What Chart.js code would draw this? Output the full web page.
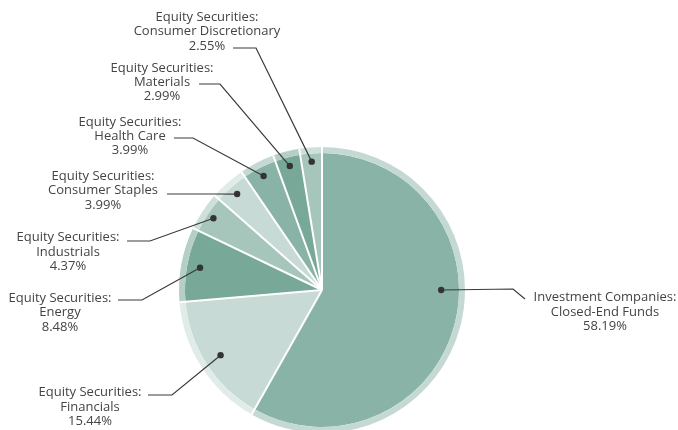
<!DOCTYPE html>
<html>
<head>
<meta charset="utf-8">
<script src="https://cdn.jsdelivr.net/npm/chart.js@4.4.1/dist/chart.umd.min.js"></script>
<style>
  html, body { margin:0; padding:0; background:#fff; overflow:hidden; }
  #wrap { position:relative; width:678px; height:440px; }
</style>
</head>
<body>
<div id="wrap"><canvas id="pie"></canvas></div>
<script>
// data, clockwise from 12 o'clock
const groups  = ['Investment Companies:', 'Equity Securities:', 'Equity Securities:', 'Equity Securities:', 'Equity Securities:', 'Equity Securities:', 'Equity Securities:', 'Equity Securities:'];
const sectors = ['Closed-End Funds', 'Financials', 'Energy', 'Industrials', 'Consumer Staples', 'Health Care', 'Materials', 'Consumer Discretionary'];
const weights = [58.19, 15.44, 8.48, 4.37, 3.99, 3.99, 2.99, 2.55];

const innerColors = ['#8ab3a7', '#c7dad5', '#78a898', '#a6c6bc', '#c7dad5', '#8ab3a7', '#78a898', '#a6c6bc'];
const ringColors  = ['#c4d9d3', '#e1ece9', '#b5cfc6', '#cfe0db', '#e1ece9', '#c4d9d3', '#b5cfc6', '#cfe0db'];

// callout layout: dot radius fraction, optional dot angle, elbow, line end, text centre x, line y's
const callouts = [
  { frac:.87,  angle:0, elbow:[513,289], end:[525,299], tx:605, ty:[297,312,326] },
  { frac:.88,  elbow:[172,395], end:[148,395], tx:90,  ty:[392,407,421] },
  { frac:.905, elbow:[142,300], end:[118,300], tx:60,  ty:[298,312,327] },
  { frac:.95,  elbow:[150,241], end:[127,241], tx:68,  ty:[237,252,266] },
  { frac:.935, elbow:[215,194], end:[167,194], tx:103, ty:[176,190,205] },
  { frac:.935, elbow:[193,138], end:[174,138], tx:130, ty:[122,136,150] },
  { frac:.935, elbow:[220,84],  end:[199,84],  tx:162, ty:[68,82,96] },
  { frac:.94,  elbow:[256,48],  end:[233,48],  tx:207, ty:[17,31,46] }
];

// white separators from centre through the outer ring
const separators = {
  id:'separators',
  afterDatasetsDraw(chart){
    const ring = chart.getDatasetMeta(0).data, inner = chart.getDatasetMeta(1).data;
    const c = chart.ctx;
    c.save(); c.strokeStyle = '#fff'; c.lineWidth = 2;
    inner.forEach((a, i)=>{
      const R = ring[i].outerRadius;
      c.beginPath(); c.moveTo(a.x, a.y);
      c.lineTo(a.x + R*Math.cos(a.startAngle), a.y + R*Math.sin(a.startAngle)); c.stroke();
    });
    c.restore();
  }
};

const labelsPlugin = {
  id:'callouts',
  afterDraw(chart){
    const inner = chart.getDatasetMeta(1).data;
    const c = chart.ctx;
    c.save();
    inner.forEach((a, i)=>{
      const co = callouts[i];
      const ang = co.angle !== undefined ? co.angle : (a.startAngle + a.endAngle)/2;
      const r = a.outerRadius * co.frac;
      const dx = a.x + r*Math.cos(ang), dy = a.y + r*Math.sin(ang);
      c.strokeStyle = '#3a3a3a'; c.lineWidth = 1.2;
      c.beginPath(); c.moveTo(dx, dy); c.lineTo(co.elbow[0], co.elbow[1]); c.lineTo(co.end[0], co.end[1]); c.stroke();
      c.fillStyle = '#333';
      c.beginPath(); c.arc(dx, dy, 3.2, 0, Math.PI*2); c.fill();
      c.fillStyle = '#444'; c.font = '13px "Open Sans"'; c.textAlign = 'center'; c.textBaseline = 'middle';
      const lines = [groups[i], sectors[i], weights[i].toFixed(2) + '%'];
      lines.forEach((t, k)=> c.fillText(t, co.tx, co.ty[k]));
    });
    c.restore();
  }
};

new Chart(document.getElementById('pie'), {
  type:'pie',
  data:{
    labels: sectors,
    datasets:[
      { data: weights, backgroundColor: ringColors, borderWidth:0, hoverOffset:0, weight:6 },
      { data: weights, backgroundColor: innerColors, borderWidth:0, hoverOffset:0, weight:137 }
    ]
  },
  options:{
    responsive:true, maintainAspectRatio:false, animation:false, events:[],
    layout:{ padding:{ left:170, right:204, top:147, bottom:7 } },
    plugins:{ legend:{display:false}, tooltip:{enabled:false} }
  },
  plugins:[separators, labelsPlugin]
});
</script>
</body>
</html>
